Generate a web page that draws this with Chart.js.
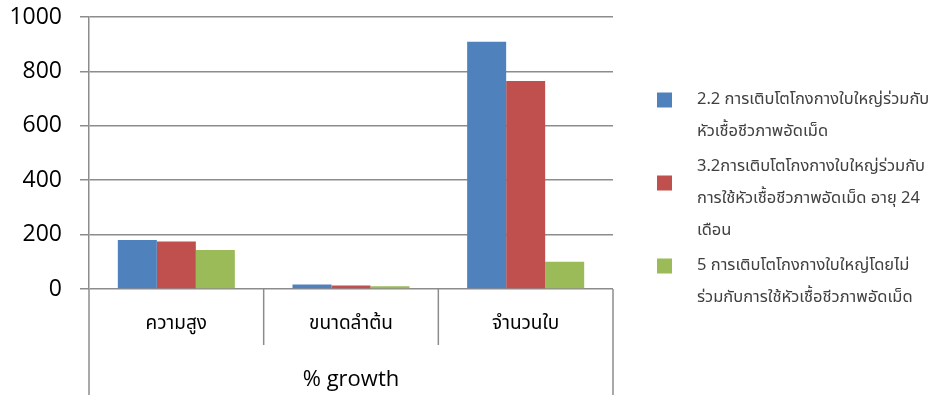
<!DOCTYPE html>
<html>
<head>
<meta charset="utf-8">
<script src="https://cdn.jsdelivr.net/npm/chart.js@4.4.1/dist/chart.umd.min.js"></script>
<style>
  html, body { margin: 0; padding: 0; background: #fff; }
  #wrap { width: 941px; height: 397px; position: relative; }
</style>
</head>
<body>
<div id="wrap"><canvas id="growthChart" width="941" height="397"></canvas></div>
<script>
const categories = ['ความสูง', 'ขนาดลำต้น', 'จำนวนใบ'];
const seriesLabels = [
    ['2.2 การเติบโตโกงกางใบใหญ่ร่วมกับ', 'หัวเชื้อชีวภาพอัดเม็ด'],
    ['3.2การเติบโตโกงกางใบใหญ่ร่วมกับ', 'การใช้หัวเชื้อชีวภาพอัดเม็ด อายุ 24', 'เดือน'],
    ['5 การเติบโตโกงกางใบใหญ่โดยไม่', 'ร่วมกับการใช้หัวเชื้อชีวภาพอัดเม็ด']
];
const series1 = [180, 17, 909];
const series2 = [175, 13, 765];
const series3 = [143, 10, 100];
const seriesColors = ['#4F81BD', '#C0504D', '#9BBB59'];
const yTicks = [0, 200, 400, 600, 800, 1000];
const xTitle = '% growth';

const axisColor = '#8c8c8c';
const thaiFont = "'Noto Sans Thai', 'DejaVu Sans', 'Noto Sans', sans-serif";
const numFont = "'Open Sans', Lato, sans-serif";

// category dividers below the axis + the long outer lines, Excel style
const dividerLines = {
    id: 'dividerLines',
    afterDraw(chart) {
        const ctx = chart.ctx;
        const x = chart.scales.x;
        const area = chart.chartArea;
        ctx.save();
        ctx.strokeStyle = axisColor;
        ctx.lineWidth = 1.5;
        for (let i = 0; i <= categories.length; i++) {
            const px = x.getPixelForValue(i - 0.5);
            const outer = i === 0 || i === categories.length;
            ctx.beginPath();
            ctx.moveTo(px, area.bottom);
            ctx.lineTo(px, outer ? chart.height - 2 : area.bottom + 56);
            ctx.stroke();
        }
        ctx.restore();
    }
};

// right-hand legend with wrapped labels
const sideLegend = {
    id: 'sideLegend',
    afterDraw(chart) {
        const ctx = chart.ctx;
        const lineH = 32;
        const gap = 3;
        const boxX = 657, textX = 697, box = 15;
        let y = 101;
        ctx.save();
        ctx.font = '16.5px ' + thaiFont;
        ctx.textBaseline = 'middle';
        chart.data.datasets.forEach((ds, i) => {
            const lines = seriesLabels[i];
            const mid = y + (lines.length - 1) * lineH / 2;
            ctx.fillStyle = ds.backgroundColor;
            ctx.fillRect(boxX, mid - 17 - box / 2, box, box);
            ctx.fillStyle = '#404040';
            lines.forEach((t, j) => ctx.fillText(t, textX, y + j * lineH));
            y += lines.length * lineH + gap;
        });
        ctx.restore();
    }
};

new Chart(document.getElementById('growthChart'), {
    type: 'bar',
    data: {
        labels: categories,
        datasets: [
            { label: seriesLabels[0].join(' '), data: series1, backgroundColor: seriesColors[0] },
            { label: seriesLabels[1].join(' '), data: series2, backgroundColor: seriesColors[1] },
            { label: seriesLabels[2].join(' '), data: series3, backgroundColor: seriesColors[2] }
        ]
    },
    options: {
        responsive: false,
        animation: false,
        layout: { padding: { top: 17, right: 328, left: 0, bottom: 0 } },
        datasets: { bar: { categoryPercentage: 0.67, barPercentage: 1.0 } },
        plugins: { legend: { display: false }, tooltip: { enabled: false } },
        scales: {
            x: {
                grid: { display: false, drawTicks: false },
                border: { display: false },
                ticks: { color: '#000', font: { family: thaiFont, size: 19 }, padding: 25 },
                title: { display: true, text: xTitle, color: '#000', font: { family: numFont, size: 22 }, padding: { top: 4, bottom: 4 } },
                afterFit(s) { s.height = 108; }
            },
            y: {
                min: 0,
                max: 1000,
                afterBuildTicks(s) { s.ticks = yTicks.map(v => ({ value: v })); },
                grid: { color: axisColor, lineWidth: 1.5, tickLength: 9 },
                border: { color: axisColor, width: 1.5 },
                ticks: { color: '#000', font: { family: numFont, size: 23 }, padding: 18, callback: v => String(v) },
                afterFit(s) {
                    s.width = 89;
                    // tick padding would otherwise push the plot top down
                    s.paddingTop = 0;
                    s.paddingBottom = 0;
                }
            }
        }
    },
    plugins: [dividerLines, sideLegend]
});
</script>
</body>
</html>
